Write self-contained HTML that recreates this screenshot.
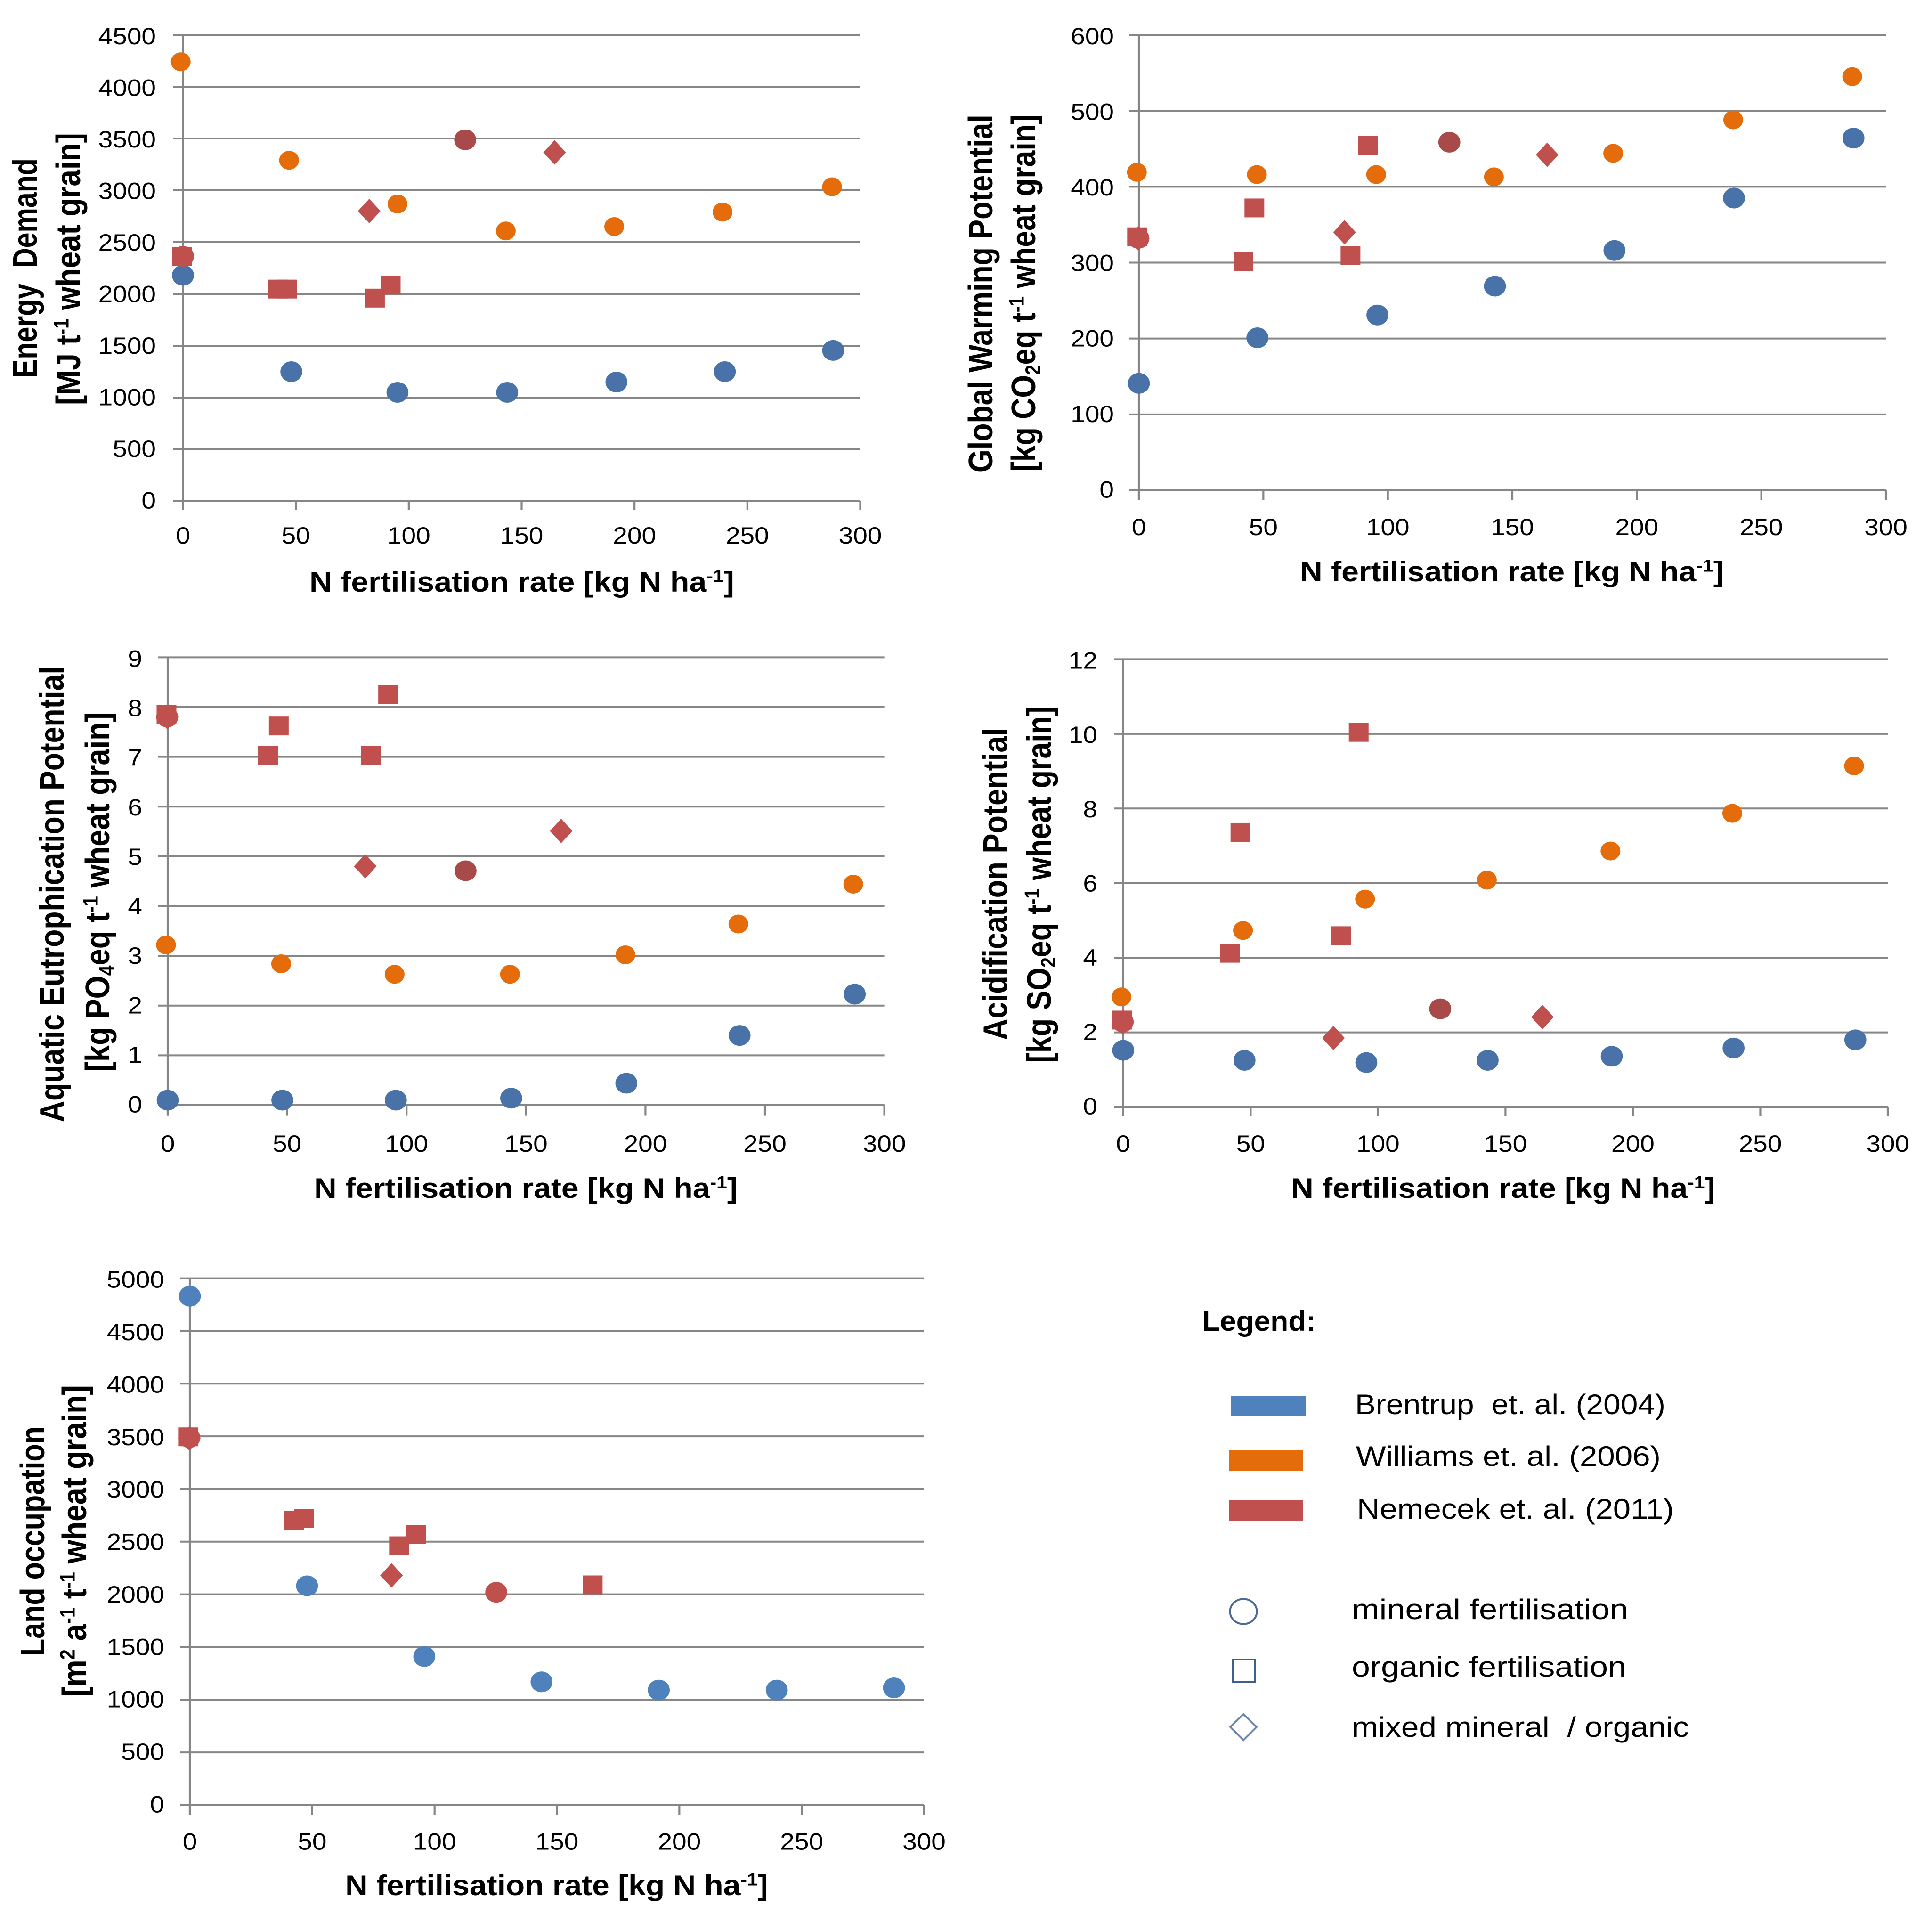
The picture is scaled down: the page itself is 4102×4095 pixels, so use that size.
<!DOCTYPE html>
<html lang="en">
<head>
<meta charset="utf-8">
<title>Wheat LCA impact indicators vs N fertilisation rate</title>
<style>
  html, body { margin: 0; padding: 0; background: #ffffff; }
  svg { display: block; }
  text { font-family: "Liberation Sans", sans-serif; fill: #000000; white-space: pre; }
</style>
</head>
<body>
<svg id="figure" xmlns="http://www.w3.org/2000/svg" width="4102" height="4095" viewBox="0 0 4102 4095">
  <rect x="0" y="0" width="4102" height="4095" fill="#ffffff"></rect>
  <g id="charts"></g>
  <g id="legend">
    <rect x="2614" y="2964" width="158" height="43" fill="#4F81BD"></rect>
    <rect x="2610" y="3079" width="157" height="43" fill="#E46C0A"></rect>
    <rect x="2610" y="3185" width="157" height="43" fill="#C0504D"></rect>
    <ellipse cx="2640" cy="3421" rx="28.5" ry="26.5" fill="none" stroke="#4A6A9A" stroke-width="4"></ellipse>
    <rect x="2617" y="3523" width="47" height="48" fill="none" stroke="#3F5F8F" stroke-width="4"></rect>
    <polygon points="2640,3639 2668,3666 2640,3694 2612,3666" fill="none" stroke="#6A84AA" stroke-width="4"></polygon>
  </g>
</svg>
<script>
// ---- Shared axis data ----
const xTickLabels = [0, 50, 100, 150, 200, 250, 300];

// ---- Energy demand ----
const energyYTicks = [0, 500, 1000, 1500, 2000, 2500, 3000, 3500, 4000, 4500];
const energyBrentrupX = [0, 48, 95, 143.6, 192, 240, 288];
const energyBrentrupY = [2180, 1250, 1050, 1050, 1150, 1250, 1455];
const energyWilliamsX = [-1, 47, 95, 143, 191, 239, 287.5];
const energyWilliamsY = [4240, 3290, 2868, 2608, 2650, 2790, 3034];
const energyNemecekCircleX = [0, 125];
const energyNemecekCircleY = [2363, 3487];
const energyNemecekSquareX = [-0.5, 42, 46, 85, 92];
const energyNemecekSquareY = [2363, 2047, 2047, 1960, 2085];
const energyNemecekDiamondX = [82.5, 164.6];
const energyNemecekDiamondY = [2800, 3366];

// ---- Global warming potential ----
const warmingYTicks = [0, 100, 200, 300, 400, 500, 600];
const warmingBrentrupX = [0, 47.6, 95.8, 143, 191, 239, 287];
const warmingBrentrupY = [141, 201, 231, 269, 316, 385, 464];
const warmingWilliamsX = [-0.8, 47.4, 95.3, 142.6, 190.5, 238.7, 286.5];
const warmingWilliamsY = [419, 416, 416, 413, 444, 488, 545];
const warmingNemecekCircleX = [-0.2, 124.7];
const warmingNemecekCircleY = [332, 458.6];
const warmingNemecekSquareX = [-0.7, 42, 46.4, 85, 92];
const warmingNemecekSquareY = [334, 301, 372, 309.5, 454.5];
const warmingNemecekDiamondX = [-0.2, 82.6, 164];
const warmingNemecekDiamondY = [332, 340, 442];

// ---- Aquatic eutrophication potential ----
const eutrophYTicks = [0, 1, 2, 3, 4, 5, 6, 7, 8, 9];
const eutrophBrentrupX = [0, 48, 95.5, 143.8, 192, 239.4, 287.6];
const eutrophBrentrupY = [0.1, 0.1, 0.1, 0.14, 0.44, 1.4, 2.23];
const eutrophWilliamsX = [-0.7, 47.5, 95, 143.3, 191.6, 238.9, 287];
const eutrophWilliamsY = [3.22, 2.84, 2.63, 2.63, 3.02, 3.64, 4.44];
const eutrophNemecekCircleX = [-0.2, 124.7];
const eutrophNemecekCircleY = [7.8, 4.71];
const eutrophNemecekSquareX = [-0.5, 42, 46.5, 85, 92.3];
const eutrophNemecekSquareY = [7.85, 7.03, 7.62, 7.03, 8.25];
const eutrophNemecekDiamondX = [-0.2, 82.7, 164.7];
const eutrophNemecekDiamondY = [7.8, 4.8, 5.51];

// ---- Acidification potential ----
const acidYTicks = [0, 2, 4, 6, 8, 10, 12];
const acidBrentrupX = [0, 47.6, 95.4, 143, 191.7, 239.5, 287.3];
const acidBrentrupY = [1.52, 1.25, 1.19, 1.25, 1.36, 1.58, 1.8];
const acidWilliamsX = [-0.7, 47, 94.9, 142.7, 191.2, 239, 286.8];
const acidWilliamsY = [2.95, 4.73, 5.57, 6.08, 6.86, 7.87, 9.14];
const acidNemecekCircleX = [-0.2, 124.4];
const acidNemecekCircleY = [2.28, 2.63];
const acidNemecekSquareX = [-0.5, 41.9, 46, 85.5, 92.4];
const acidNemecekSquareY = [2.33, 4.12, 7.36, 4.59, 10.04];
const acidNemecekDiamondX = [-0.2, 82.5, 164.5];
const acidNemecekDiamondY = [2.27, 1.85, 2.41];

// ---- Land occupation ----
const landYTicks = [0, 500, 1000, 1500, 2000, 2500, 3000, 3500, 4000, 4500, 5000];
const landBrentrupX = [0, 47.9, 95.8, 143.7, 191.6, 239.8, 287.7];
const landBrentrupY = [4830, 2081, 1410, 1170, 1092, 1092, 1113];
const landWilliamsX = [];
const landWilliamsY = [];
const landNemecekCircleX = [-0.2, 125.2];
const landNemecekCircleY = [3487, 2020];
const landNemecekSquareX = [-0.7, 42.7, 46.6, 85.5, 92.4, 164.6];
const landNemecekSquareY = [3495, 2704, 2720, 2461, 2568, 2090];
const landNemecekDiamondX = [-0.2, 82.4];
const landNemecekDiamondY = [3480, 2180];

// ---- Layout & drawing ----
const SVGNS = 'http://www.w3.org/2000/svg';
const GRID = '#868686';
const BLUE_A = '#4872A8';
const BLUE_B = '#4F81BD';
const ORANGE = '#E46C0A';
const RED = '#BF504E';
const DARK_RED = '#A84A4A';
const BRIGHT_RED = '#C0504D';

function fittedText(parent, segments, ax, ay, fontSize, weight, target, anchor, angle) {
  const el = document.createElementNS(SVGNS, 'text');
  el.setAttribute('font-size', fontSize);
  el.setAttribute('font-weight', weight);
  el.setAttribute('text-anchor', anchor);
  let pending = 0;
  segments.forEach(function (seg) {
    const span = document.createElementNS(SVGNS, 'tspan');
    span.textContent = seg[0];
    let shift = pending;
    pending = 0;
    if (seg[1] === 'sup') {
      span.setAttribute('font-size', fontSize * 0.62);
      shift -= fontSize * 0.34;
      pending = fontSize * 0.34;
    } else if (seg[1] === 'sub') {
      span.setAttribute('font-size', fontSize * 0.62);
      shift += fontSize * 0.14;
      pending = -fontSize * 0.14;
    }
    if (shift !== 0) span.setAttribute('dy', shift);
    el.appendChild(span);
  });
  parent.appendChild(el);
  const natural = el.getComputedTextLength();
  const sx = natural > 0 ? target / natural : 1;
  el.setAttribute('transform', 'translate(' + ax + ' ' + ay + ') rotate(' + (angle || 0) + ') scale(' + sx + ' 1)');
  return el;
}

function drawLine(parent, x1, y1, x2, y2, width) {
  const el = document.createElementNS(SVGNS, 'line');
  el.setAttribute('x1', x1);
  el.setAttribute('y1', y1);
  el.setAttribute('x2', x2);
  el.setAttribute('y2', y2);
  el.setAttribute('stroke', GRID);
  el.setAttribute('stroke-width', width);
  parent.appendChild(el);
  return el;
}

function drawCircles(parent, xs, ys, sx, sy, rx, ry, colorAt, seriesName) {
  xs.forEach(function (xv, i) {
    const el = document.createElementNS(SVGNS, 'ellipse');
    
    
    el.setAttribute('cx', sx(xv));
    el.setAttribute('cy', sy(ys[i]));
    el.setAttribute('rx', rx);
    el.setAttribute('ry', ry);
    el.setAttribute('fill', colorAt(i));
    parent.appendChild(el);
  });
}

function drawSquares(parent, xs, ys, sx, sy, seriesName) {
  xs.forEach(function (xv, i) {
    const el = document.createElementNS(SVGNS, 'rect');
    
    
    el.setAttribute('x', sx(xv) - 21);
    el.setAttribute('y', sy(ys[i]) - 20);
    el.setAttribute('width', 42);
    el.setAttribute('height', 40);
    el.setAttribute('fill', RED);
    parent.appendChild(el);
  });
}

function drawDiamonds(parent, xs, ys, sx, sy, seriesName) {
  xs.forEach(function (xv, i) {
    const cx = sx(xv);
    const cy = sy(ys[i]);
    const el = document.createElementNS(SVGNS, 'polygon');
    
    
    el.setAttribute('points', cx + ',' + (cy - 26) + ' ' + (cx + 24) + ',' + cy + ' ' + cx + ',' + (cy + 26) + ' ' + (cx - 24) + ',' + cy);
    el.setAttribute('fill', RED);
    parent.appendChild(el);
  });
}

function drawChart(cfg) {
  const root = document.getElementById('charts');
  const g = document.createElementNS(SVGNS, 'g');
  
  
  root.appendChild(g);

  const xMax = xTickLabels[xTickLabels.length - 1];
  const yMax = cfg.yTicks[cfg.yTicks.length - 1];
  const sx = function (v) { return cfg.left + (cfg.right - cfg.left) * v / xMax; };
  const sy = function (v) { return cfg.bottom - (cfg.bottom - cfg.top) * v / yMax; };

  cfg.yTicks.forEach(function (t) {
    const line = drawLine(g, cfg.gridStart, sy(t), cfg.right, sy(t), 4);
    
    
    const label = fittedText(g, [[String(t)]], cfg.yLabelRight, sy(t) + 15.5 + 4.5 * t / yMax, 50, 400, String(t).length * 30.6, 'end', 0);
    
    
  });

  const axis = drawLine(g, cfg.left, cfg.top, cfg.left, cfg.tickBottom, 4.2);
  
  

  xTickLabels.forEach(function (t) {
    const tick = drawLine(g, sx(t), cfg.bottom, sx(t), cfg.tickBottom, 4.2);
    
    
    const label = fittedText(g, [[String(t)]], sx(t), cfg.xLabelBase, 50, 400, String(t).length * 30.6, 'middle', 0);
    
    
  });

  const xTitle = fittedText(g, [['N fertilisation rate [kg N ha'], ['-1', 'sup'], [']']], cfg.xTitleLeft, cfg.xTitleBase, 60, 700, cfg.xTitleWidth, 'start', 0);
  
  

  const title1 = fittedText(g, cfg.title1, cfg.title1X, cfg.title1Bottom, 72, 700, cfg.title1Bottom - cfg.title1Top, 'start', -90);
  
  
  const title2 = fittedText(g, cfg.title2, cfg.title2X, cfg.title2Bottom, 72, 700, cfg.title2Bottom - cfg.title2Top, 'start', -90);
  
  

  drawCircles(g, cfg.brentrupX, cfg.brentrupY, sx, sy, 23.3, 22, function () { return cfg.blue; }, 'brentrup-mineral');
  drawCircles(g, cfg.williamsX, cfg.williamsY, sx, sy, 21, 20, function () { return ORANGE; }, 'williams-mineral');
  drawCircles(g, cfg.circleX, cfg.circleY, sx, sy, 23.3, 22, function (i) { return i === 0 ? RED : cfg.accent; }, 'nemecek-mineral');
  drawDiamonds(g, cfg.diamondX, cfg.diamondY, sx, sy, 'nemecek-mixed');
  drawSquares(g, cfg.squareX, cfg.squareY, sx, sy, 'nemecek-organic');
}

drawChart({
  name: 'energy-demand', yTicks: energyYTicks, blue: BLUE_A, accent: DARK_RED,
  left: 388.5, right: 1826.5, gridStart: 368, top: 74, bottom: 1064, tickBottom: 1083,
  yLabelRight: 331, xLabelBase: 1154, xTitleLeft: 657, xTitleBase: 1256, xTitleWidth: 902,
  title1: [['Energy  Demand']], title1X: 78, title1Top: 336, title1Bottom: 802,
  title2: [['[MJ t'], ['-1', 'sup'], [' wheat grain]']], title2X: 170, title2Top: 282, title2Bottom: 860,
  brentrupX: energyBrentrupX, brentrupY: energyBrentrupY, williamsX: energyWilliamsX, williamsY: energyWilliamsY,
  circleX: energyNemecekCircleX, circleY: energyNemecekCircleY, squareX: energyNemecekSquareX, squareY: energyNemecekSquareY,
  diamondX: energyNemecekDiamondX, diamondY: energyNemecekDiamondY
});

drawChart({
  name: 'global-warming', yTicks: warmingYTicks, blue: BLUE_A, accent: DARK_RED,
  left: 2418, right: 4004, gridStart: 2397, top: 74, bottom: 1041, tickBottom: 1061,
  yLabelRight: 2365, xLabelBase: 1136, xTitleLeft: 2760, xTitleBase: 1234, xTitleWidth: 900,
  title1: [['Global Warming Potential']], title1X: 2107, title1Top: 243, title1Bottom: 1003,
  title2: [['[kg CO'], ['2', 'sub'], ['eq t'], ['-1', 'sup'], [' wheat grain]']], title2X: 2198, title2Top: 243, title2Bottom: 1001,
  brentrupX: warmingBrentrupX, brentrupY: warmingBrentrupY, williamsX: warmingWilliamsX, williamsY: warmingWilliamsY,
  circleX: warmingNemecekCircleX, circleY: warmingNemecekCircleY, squareX: warmingNemecekSquareX, squareY: warmingNemecekSquareY,
  diamondX: warmingNemecekDiamondX, diamondY: warmingNemecekDiamondY
});

drawChart({
  name: 'aquatic-eutrophication', yTicks: eutrophYTicks, blue: BLUE_A, accent: DARK_RED,
  left: 356, right: 1877.6, gridStart: 336, top: 1395.4, bottom: 2346, tickBottom: 2368.6,
  yLabelRight: 302, xLabelBase: 2445, xTitleLeft: 667, xTitleBase: 2543, xTitleWidth: 899,
  title1: [['Aquatic Eutrophication Potential']], title1X: 135, title1Top: 1414, title1Bottom: 2382,
  title2: [['[kg PO'], ['4', 'sub'], ['eq t'], ['-1', 'sup'], [' wheat grain]']], title2X: 232, title2Top: 1512, title2Bottom: 2275,
  brentrupX: eutrophBrentrupX, brentrupY: eutrophBrentrupY, williamsX: eutrophWilliamsX, williamsY: eutrophWilliamsY,
  circleX: eutrophNemecekCircleX, circleY: eutrophNemecekCircleY, squareX: eutrophNemecekSquareX, squareY: eutrophNemecekSquareY,
  diamondX: eutrophNemecekDiamondX, diamondY: eutrophNemecekDiamondY
});

drawChart({
  name: 'acidification', yTicks: acidYTicks, blue: BLUE_A, accent: DARK_RED,
  left: 2384.8, right: 4008, gridStart: 2365, top: 1399.4, bottom: 2350, tickBottom: 2370,
  yLabelRight: 2330, xLabelBase: 2445, xTitleLeft: 2741, xTitleBase: 2543, xTitleWidth: 901,
  title1: [['Acidification Potential']], title1X: 2138, title1Top: 1545, title1Bottom: 2208,
  title2: [['[kg SO'], ['2', 'sub'], ['eq t'], ['-1', 'sup'], [' wheat grain]']], title2X: 2231, title2Top: 1499, title2Bottom: 2256,
  brentrupX: acidBrentrupX, brentrupY: acidBrentrupY, williamsX: acidWilliamsX, williamsY: acidWilliamsY,
  circleX: acidNemecekCircleX, circleY: acidNemecekCircleY, squareX: acidNemecekSquareX, squareY: acidNemecekSquareY,
  diamondX: acidNemecekDiamondX, diamondY: acidNemecekDiamondY
});

drawChart({
  name: 'land-occupation', yTicks: landYTicks, blue: BLUE_B, accent: BRIGHT_RED,
  left: 403, right: 1962, gridStart: 382, top: 2713.6, bottom: 3832, tickBottom: 3852.7,
  yLabelRight: 349, xLabelBase: 3926.5, xTitleLeft: 733, xTitleBase: 4023, xTitleWidth: 898,
  title1: [['Land occupation']], title1X: 94, title1Top: 3028, title1Bottom: 3516,
  title2: [['[m'], ['2', 'sup'], [' a'], ['-1', 'sup'], [' t'], ['-1', 'sup'], [' wheat grain]']], title2X: 183, title2Top: 2940, title2Bottom: 3602,
  brentrupX: landBrentrupX, brentrupY: landBrentrupY, williamsX: landWilliamsX, williamsY: landWilliamsY,
  circleX: landNemecekCircleX, circleY: landNemecekCircleY, squareX: landNemecekSquareX, squareY: landNemecekSquareY,
  diamondX: landNemecekDiamondX, diamondY: landNemecekDiamondY
});

// ---- Legend text ----
const legendGroup = document.getElementById('legend');

const legendTitle = fittedText(legendGroup, [['Legend:']], 2552, 2825, 60, 700, 242, 'start', 0);



const legendBrentrup = fittedText(legendGroup, [['Brentrup  et. al. (2004)']], 2877, 3002, 60, 400, 659, 'start', 0);



const legendWilliams = fittedText(legendGroup, [['Williams et. al. (2006)']], 2879, 3112, 60, 400, 647, 'start', 0);



const legendNemecek = fittedText(legendGroup, [['Nemecek et. al. (2011)']], 2881, 3224, 60, 400, 673, 'start', 0);



const legendMineral = fittedText(legendGroup, [['mineral fertilisation']], 2870, 3437, 60, 400, 587, 'start', 0);



const legendOrganic = fittedText(legendGroup, [['organic fertilisation']], 2870, 3559, 60, 400, 583, 'start', 0);



const legendMixed = fittedText(legendGroup, [['mixed mineral  / organic']], 2870, 3687, 60, 400, 716, 'start', 0);


</script>
</body>
</html>
